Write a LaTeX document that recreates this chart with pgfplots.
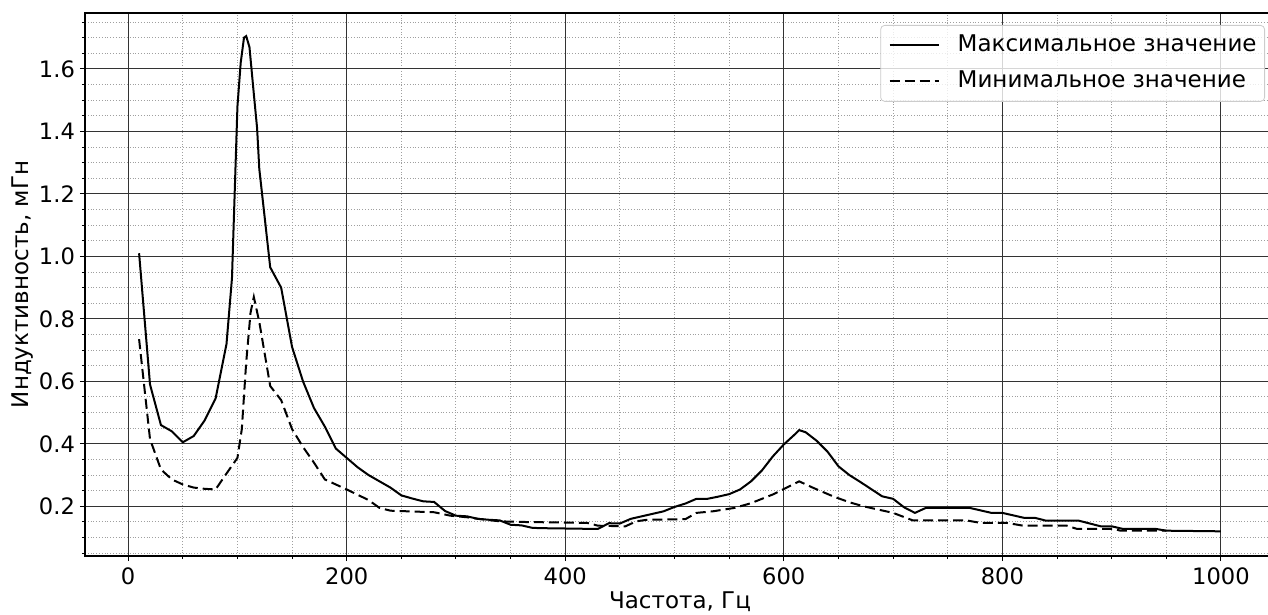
\documentclass[border=0pt]{standalone}
\usepackage{fontspec}
\setmainfont{DejaVu Sans}
\usepackage{pgfplots}
\pgfplotsset{compat=1.18}
\begin{document}
\begin{tikzpicture}
\path[use as bounding box] (-42.5pt,-29.5pt) rectangle (591.5pt,278pt);
\begin{axis}[
  scale only axis, width=595pt, height=271.5pt,
  xmin=-39.5, xmax=1049.5, ymin=0.041, ymax=1.779,
  xtick={0,200,400,600,800,1000},
  ytick={0.2,0.4,0.6,0.8,1.0,1.2,1.4,1.6},
  minor xtick={50,100,150,250,300,350,450,500,550,650,700,750,850,900,950},
  minor ytick={0.05,0.1,0.15,0.25,0.3,0.35,0.45,0.5,0.55,0.65,0.7,0.75,0.85,0.9,0.95,1.05,1.1,1.15,1.25,1.3,1.35,1.45,1.5,1.55,1.65,1.7,1.75},
  xtick pos=bottom, ytick pos=left,
  tick align=outside,
  major tick length=2.5pt, minor tick length=1.5pt,
  tick style={black, line width=0.5pt},
  axis line style={black, line width=0.75pt},
  grid=both,
  major grid style={black!80, line width=0.55pt, solid},
  minor grid style={gray!75, densely dotted, line width=0.5pt},
  /pgf/number format/assume math mode=true,
  /pgf/number format/1000 sep={},
  yticklabel style={/pgf/number format/fixed, /pgf/number format/fixed zerofill, /pgf/number format/precision=1, xshift=1pt},
  tick label style={font=\fontsize{11.3}{13}\selectfont},
  xlabel={Частота, Гц},
  ylabel={Индуктивность, мГн},
  every axis x label/.style={at={(axis description cs:0.5,-0.0958)}, anchor=base, font=\fontsize{11.5}{13}\selectfont},
  every axis y label/.style={at={(axis description cs:-0.0479,0.5)}, rotate=90, anchor=base, font=\fontsize{11.5}{13}\selectfont},
  legend style={at={(axis description cs:0.9916,0.9779)}, anchor=north east,
    draw=black!20, rounded corners=2pt, fill=white, fill opacity=0.8, text opacity=1,
    font=\fontsize{11.5}{13}\selectfont,
    inner xsep=4pt, inner ysep=4.5pt, row sep=7pt, column sep=9pt,
    nodes={inner sep=0pt, text height=8.5pt, text depth=2.5pt}},
  legend cell align=left,
  legend image code/.code={\draw[#1] (0pt,0pt) -- (24.5pt,0pt);},
]
\addplot[black, line width=1pt] coordinates {
(10,1.01) (20,0.59) (30,0.46) (40,0.44) (50,0.405) (60,0.425) (70,0.475) (80,0.545)
(90,0.72) (95,0.93) (100,1.48) (103,1.62) (106,1.70) (108,1.705) (111,1.67) (115,1.52)
(118,1.41) (120,1.28) (130,0.965) (140,0.90) (150,0.71) (160,0.60) (170,0.515) (180,0.455)
(190,0.385) (200,0.355) (210,0.325) (220,0.30) (230,0.28) (240,0.26) (250,0.235) (260,0.225)
(270,0.216) (280,0.214) (290,0.185) (300,0.170) (310,0.168) (320,0.160) (330,0.157) (340,0.155)
(350,0.141) (360,0.139) (370,0.131) (380,0.130) (400,0.129) (420,0.128) (430,0.128) (440,0.146)
(450,0.145) (460,0.160) (470,0.168) (480,0.176) (490,0.184) (500,0.198) (510,0.209) (520,0.224)
(530,0.224) (540,0.231) (550,0.239) (560,0.254) (570,0.280) (580,0.315) (590,0.360) (600,0.398)
(610,0.430) (614,0.444) (620,0.437) (630,0.41) (640,0.375) (650,0.328) (660,0.30) (670,0.278)
(680,0.255) (690,0.232) (700,0.224) (710,0.197) (720,0.179) (730,0.195) (740,0.195) (770,0.195)
(790,0.179) (800,0.179) (820,0.163) (830,0.163) (840,0.154) (870,0.154) (890,0.136) (900,0.136)
(910,0.128) (940,0.128) (950,0.122) (1000,0.120)
};
\addlegendentry{Максимальное значение}
\addplot[black, line width=1pt, dash pattern=on 5pt off 2.5pt] coordinates {
(10,0.735) (20,0.415) (30,0.318) (40,0.286) (50,0.270) (60,0.260) (70,0.256) (80,0.254)
(90,0.305) (100,0.355) (104,0.447) (108,0.66) (112,0.82) (115,0.87) (120,0.79) (130,0.585)
(140,0.54) (150,0.447) (160,0.39) (170,0.34) (180,0.286) (190,0.27) (200,0.254) (210,0.237)
(220,0.220) (230,0.195) (240,0.186) (280,0.181) (295,0.170) (310,0.165) (320,0.160) (340,0.152)
(360,0.150) (420,0.147) (430,0.138) (455,0.136) (465,0.152) (475,0.157) (510,0.159) (520,0.179)
(535,0.184) (555,0.195) (570,0.21) (590,0.238) (614,0.280) (627,0.259) (645,0.232) (660,0.213)
(673,0.200) (700,0.179) (718,0.155) (767,0.155) (780,0.147) (804,0.147) (819,0.138) (859,0.138)
(868,0.128) (902,0.128) (908,0.122) (950,0.122)
};
\addlegendentry{Минимальное значение}
\end{axis}
\end{tikzpicture}
\end{document}
